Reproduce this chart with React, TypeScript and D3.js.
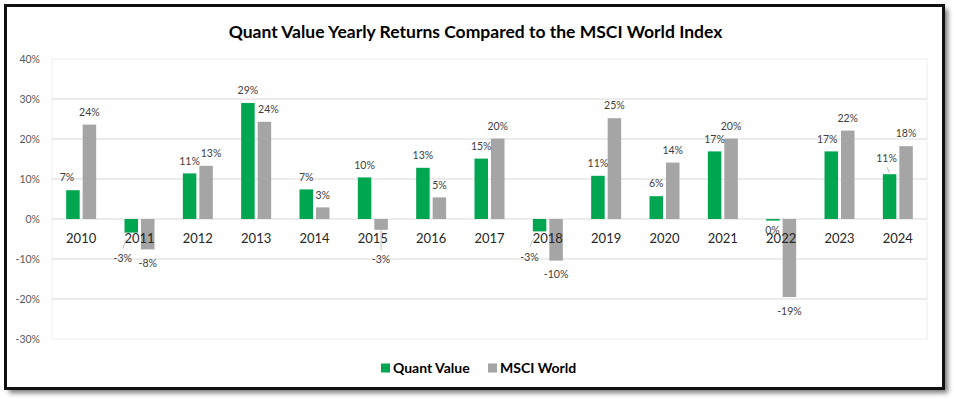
import React from "react";
import * as d3 from "d3";

const years = ["2010","2011","2012","2013","2014","2015","2016","2017","2018","2019","2020","2021","2022","2023","2024"];
const quantValue = [7.2, -3.4, 11.4, 29.0, 7.4, 10.4, 12.8, 15.1, -3.1, 10.8, 5.7, 16.9, -0.4, 16.9, 11.2];
const msciWorld = [23.6, -7.6, 13.3, 24.3, 2.9, -2.7, 5.4, 20.1, -10.4, 25.2, 14.1, 20.1, -19.5, 22.1, 18.2];
const yTicks = [-30, -20, -10, 0, 10, 20, 30, 40];
const seriesNames = ["Quant Value", "MSCI World"];

const W = 954, H = 399;
const FONT = "Lato, 'Open Sans', sans-serif";
const colors = ["#00A650", "#A5A5A5"];

// manual label nudges (dx, dy, leader) as placed in the source chart
const nudges: Record<string, [number, number, boolean]> = {
  "0-2010": [-6, 0, false],
  "1-2012": [5, 0, false],
  "1-2013": [4, 0, false],
  "0-2011": [-8.5, 12, true],
  "1-2015": [0, 16, true],
  "0-2018": [-10, 12, true],
  "0-2022": [-0.5, -4, false],
  "0-2023": [-4, 0, false],
  "0-2024": [-3, -3.5, true],
};

export default function App() {
  const plot = { left: 52, right: 927, top: 59, bottom: 339 };
  const x = d3.scaleBand<string>().domain(years).range([plot.left, plot.right]).paddingInner(0).paddingOuter(0);
  const y = d3.scaleLinear().domain([-30, 40]).range([plot.bottom, plot.top]);
  const barW = 13.5;
  const gap = 3;
  const fmt = (v: number) => `${Math.round(v)}%`;
  const series = [quantValue, msciWorld];

  const bars: any[] = [];
  const labels: any[] = [];
  series.forEach((vals, si) => {
    vals.forEach((v, i) => {
      const yr = years[i];
      const c = x(yr)! + x.bandwidth() / 2;
      const bx = si === 0 ? c - gap / 2 - barW / 2 : c + gap / 2 + barW / 2;
      const y0 = y(0);
      const yv = y(v);
      bars.push(
        <rect key={`b${si}-${i}`} x={bx - barW / 2} y={Math.min(y0, yv)} width={barW}
          height={Math.max(0.8, Math.abs(yv - y0))} fill={colors[si]} />
      );
      const n = nudges[`${si}-${yr}`] || [0, 0, false];
      const pos = v >= 0;
      const lx = bx + n[0];
      const ly = (pos ? yv - 12.5 : yv + 14) + n[1];
      if (n[2]) {
        let x1, y1, x2, y2;
        if (pos) {
          x1 = lx + 0.5; y1 = ly + 9; x2 = bx; y2 = yv - 1;
        } else {
          x1 = lx; y1 = ly - 10;
          x2 = lx + 0.4 * (bx - lx); y2 = yv + (n[0] === 0 ? 0 : 7);
        }
        labels.push(<line key={`ll${si}-${i}`} x1={x1} y1={y1} x2={x2} y2={y2} stroke="#BFBFBF" strokeWidth={1} />);
      }
      labels.push(
        <text key={`l${si}-${i}`} x={lx} y={ly} dy="0.35em" textAnchor="middle"
          fontSize={10.5} fill="#404040" fontFamily={FONT}>{fmt(v)}</text>
      );
    });
  });

  return (
    <svg width={W} height={H} style={{ position: "absolute", left: 0, top: 0 }}>
      <defs>
        <filter id="shadow" x="-5%" y="-5%" width="110%" height="115%">
          <feGaussianBlur stdDeviation="2.5" />
        </filter>
      </defs>
      <rect x={0} y={0} width={W} height={H} fill="#fff" />
      <rect x={9} y={9} width={939} height={384} fill="#7a7a7a" filter="url(#shadow)" />
      <rect x={5.5} y={5.5} width={938} height={383} fill="#fff" stroke="#111" strokeWidth={3} />

      <text x={475.5} y={32} dy="0.35em" textAnchor="middle" fontSize={17.5} fontWeight="bold"
        fontFamily={FONT} fill="#000">Quant Value Yearly Returns Compared to the MSCI World Index</text>

      <rect x={plot.left} y={plot.top} width={plot.right - plot.left} height={plot.bottom - plot.top}
        fill="none" stroke="#EEEEEE" strokeWidth={1} />
      {yTicks.map((t) => (
        <g key={t}>
          {t > -30 && t < 40 && (
            <line x1={plot.left} x2={plot.right} y1={y(t)} y2={y(t)} stroke="#D9D9D9" strokeWidth={1} />
          )}
          <text x={40} y={y(t)} dy="0.35em" textAnchor="end" fontSize={10.5} fill="#595959" fontFamily={FONT}>{`${t}%`}</text>
        </g>
      ))}
      {bars}
      {years.map((yr) => (
        <text key={yr} x={x(yr)! + x.bandwidth() / 2} y={238} dy="0.35em" textAnchor="middle"
          fontSize={13} fill="#262626" fontFamily={FONT}>{yr}</text>
      ))}
      {labels}

      <g>
        <rect x={381} y={363.5} width={9} height={9} fill={colors[0]} />
        <text x={393} y={368} dy="0.35em" fontSize={14} fontWeight="bold" fill="#000" fontFamily={FONT}>{seriesNames[0]}</text>
        <rect x={488} y={363.5} width={9} height={9} fill={colors[1]} />
        <text x={500} y={368} dy="0.35em" fontSize={14} fontWeight="bold" fill="#000" fontFamily={FONT}>{seriesNames[1]}</text>
      </g>
    </svg>
  );
}
